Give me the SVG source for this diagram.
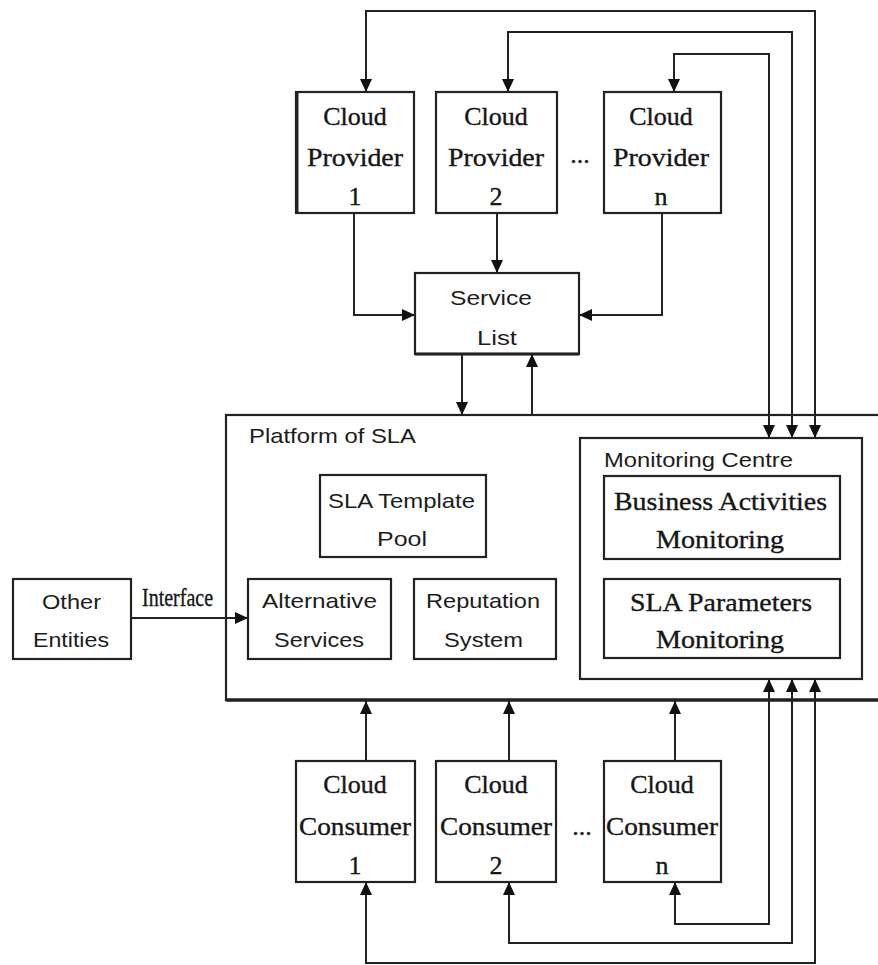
<svg xmlns="http://www.w3.org/2000/svg" width="878" height="965" viewBox="0 0 878 965">
  <style>
    .box { fill: #ffffff; stroke: #222; stroke-width: 2.2; }
    .wire { fill: none; stroke: #222; stroke-width: 2; }
    .serif { font-family: "Liberation Serif", "Times New Roman", serif; font-size: 26px; fill: #161616; stroke: #161616; stroke-width: 0.35; }
    .sans { font-family: "Liberation Sans", Arial, sans-serif; font-size: 21px; fill: #1c1c1c; }
  </style>
  <defs>
    <marker id="arrow" viewBox="0 0 13 12" refX="13" refY="6" markerWidth="13" markerHeight="12" markerUnits="userSpaceOnUse" orient="auto-start-reverse">
      <path d="M0,0 L13,6 L0,12 z" fill="#111"/>
    </marker>
  </defs>

  <rect width="878" height="965" fill="#ffffff"/>

  <!-- Platform of SLA (outer frame) -->
  <g id="platform">
    <rect class="box" x="226" y="415" width="660" height="285"/>
    <line x1="226" y1="700" x2="878" y2="700" stroke="#222" stroke-width="3.5"/>
    <text class="sans" x="249" y="443" textLength="167" lengthAdjust="spacingAndGlyphs">Platform of SLA</text>
  </g>

  <!-- Monitoring centre with its two monitors -->
  <g id="monitoring-centre">
    <rect class="box" x="580" y="438" width="282" height="241"/>
    <text class="sans" x="604" y="467" textLength="189" lengthAdjust="spacingAndGlyphs">Monitoring Centre</text>
  </g>
  <g id="business-activities-monitoring">
    <rect class="box" x="604" y="476" width="236" height="83"/>
    <text class="serif" x="614" y="510" textLength="213" lengthAdjust="spacingAndGlyphs">Business Activities</text>
    <text class="serif" x="656" y="548" textLength="128" lengthAdjust="spacingAndGlyphs">Monitoring</text>
  </g>
  <g id="sla-parameters-monitoring">
    <rect class="box" x="604" y="579" width="236" height="79"/>
    <text class="serif" x="630" y="611" textLength="182" lengthAdjust="spacingAndGlyphs">SLA Parameters</text>
    <text class="serif" x="656" y="648" textLength="128" lengthAdjust="spacingAndGlyphs">Monitoring</text>
  </g>

  <!-- Platform components -->
  <g id="sla-template-pool">
    <rect class="box" x="320" y="475" width="166" height="82"/>
    <text class="sans" x="328" y="508" textLength="147" lengthAdjust="spacingAndGlyphs">SLA Template</text>
    <text class="sans" x="377" y="546" textLength="50" lengthAdjust="spacingAndGlyphs">Pool</text>
  </g>
  <g id="alternative-services">
    <rect class="box" x="248" y="579" width="143" height="80"/>
    <text class="sans" x="262" y="608" textLength="115" lengthAdjust="spacingAndGlyphs">Alternative</text>
    <text class="sans" x="274" y="647" textLength="90" lengthAdjust="spacingAndGlyphs">Services</text>
  </g>
  <g id="reputation-system">
    <rect class="box" x="414" y="579" width="142" height="80"/>
    <text class="sans" x="426" y="608" textLength="114" lengthAdjust="spacingAndGlyphs">Reputation</text>
    <text class="sans" x="444" y="647" textLength="79" lengthAdjust="spacingAndGlyphs">System</text>
  </g>

  <!-- External entities -->
  <g id="other-entities">
    <rect class="box" x="13" y="579" width="118" height="80"/>
    <text class="sans" x="42" y="609" textLength="59" lengthAdjust="spacingAndGlyphs">Other</text>
    <text class="sans" x="33" y="647" textLength="76" lengthAdjust="spacingAndGlyphs">Entities</text>
  </g>

  <!-- Service list -->
  <g id="service-list">
    <rect class="box" x="415" y="273" width="164" height="81"/>
    <line x1="415" y1="354" x2="579" y2="354" stroke="#222" stroke-width="3"/>
    <text class="sans" x="450" y="305" textLength="82" lengthAdjust="spacingAndGlyphs">Service</text>
    <text class="sans" x="477" y="345" textLength="40" lengthAdjust="spacingAndGlyphs">List</text>
  </g>

  <!-- Cloud providers -->
  <g id="provider-1">
    <rect class="box" x="296" y="92" width="118" height="121"/>
    <line x1="297" y1="92" x2="297" y2="213" stroke="#222" stroke-width="3"/>
    <text class="serif" x="355" y="125" text-anchor="middle">Cloud</text>
    <text class="serif" x="355" y="166" text-anchor="middle" textLength="96" lengthAdjust="spacingAndGlyphs">Provider</text>
    <text class="serif" x="355" y="205" text-anchor="middle">1</text>
  </g>
  <g id="provider-2">
    <rect class="box" x="436" y="92" width="121" height="121"/>
    <text class="serif" x="496" y="125" text-anchor="middle">Cloud</text>
    <text class="serif" x="496" y="166" text-anchor="middle" textLength="96" lengthAdjust="spacingAndGlyphs">Provider</text>
    <text class="serif" x="496" y="205" text-anchor="middle">2</text>
  </g>
  <text class="serif" x="580" y="163" text-anchor="middle" font-size="16" stroke-width="0">...</text>
  <g id="provider-n">
    <rect class="box" x="604" y="92" width="117" height="121"/>
    <text class="serif" x="661" y="125" text-anchor="middle">Cloud</text>
    <text class="serif" x="661" y="166" text-anchor="middle" textLength="96" lengthAdjust="spacingAndGlyphs">Provider</text>
    <text class="serif" x="661" y="205" text-anchor="middle">n</text>
  </g>

  <!-- Cloud consumers -->
  <g id="consumer-1">
    <rect class="box" x="296" y="761" width="119" height="121"/>
    <text class="serif" x="355" y="793" text-anchor="middle">Cloud</text>
    <text class="serif" x="355" y="835" text-anchor="middle" textLength="112" lengthAdjust="spacingAndGlyphs">Consumer</text>
    <text class="serif" x="355" y="874" text-anchor="middle">1</text>
  </g>
  <g id="consumer-2">
    <rect class="box" x="436" y="761" width="120" height="121"/>
    <text class="serif" x="496" y="793" text-anchor="middle">Cloud</text>
    <text class="serif" x="496" y="835" text-anchor="middle" textLength="112" lengthAdjust="spacingAndGlyphs">Consumer</text>
    <text class="serif" x="496" y="874" text-anchor="middle">2</text>
  </g>
  <text class="serif" x="582" y="835" text-anchor="middle" font-size="16" stroke-width="0">...</text>
  <g id="consumer-n">
    <rect class="box" x="604" y="761" width="117" height="121"/>
    <text class="serif" x="662" y="793" text-anchor="middle">Cloud</text>
    <text class="serif" x="662" y="835" text-anchor="middle" textLength="112" lengthAdjust="spacingAndGlyphs">Consumer</text>
    <text class="serif" x="662" y="874" text-anchor="middle">n</text>
  </g>

  <!-- Connectors -->
  <g id="connectors">
    <!-- monitoring centre to providers -->
    <path class="wire" d="M366,92 L366,11 L815,11 L815,438" marker-start="url(#arrow)" marker-end="url(#arrow)"/>
    <path class="wire" d="M508,92 L508,32 L792,32 L792,438" marker-start="url(#arrow)" marker-end="url(#arrow)"/>
    <path class="wire" d="M674,92 L674,54 L769,54 L769,438" marker-start="url(#arrow)" marker-end="url(#arrow)"/>
    <!-- monitoring centre to consumers -->
    <path class="wire" d="M366,882 L366,963 L815,963 L815,679" marker-start="url(#arrow)" marker-end="url(#arrow)"/>
    <path class="wire" d="M509,882 L509,943 L792,943 L792,679" marker-start="url(#arrow)" marker-end="url(#arrow)"/>
    <path class="wire" d="M675,882 L675,924 L769,924 L769,679" marker-start="url(#arrow)" marker-end="url(#arrow)"/>
    <!-- providers to service list -->
    <path class="wire" d="M354,213 L354,315 L415,315" marker-end="url(#arrow)"/>
    <path class="wire" d="M497,213 L497,273" marker-end="url(#arrow)"/>
    <path class="wire" d="M662,213 L662,315 L579,315" marker-end="url(#arrow)"/>
    <!-- service list and platform -->
    <path class="wire" d="M462,354 L462,415" marker-end="url(#arrow)"/>
    <path class="wire" d="M532,415 L532,354" marker-end="url(#arrow)"/>
    <!-- consumers to platform -->
    <path class="wire" d="M366,761 L366,701" marker-end="url(#arrow)"/>
    <path class="wire" d="M509,761 L509,701" marker-end="url(#arrow)"/>
    <path class="wire" d="M675,761 L675,701" marker-end="url(#arrow)"/>
    <!-- interface -->
    <path class="wire" d="M131,618 L248,618" marker-end="url(#arrow)"/>
    <text class="serif" x="142" y="606" font-size="15" stroke-width="0" textLength="71" lengthAdjust="spacingAndGlyphs">Interface</text>
  </g>
</svg>
